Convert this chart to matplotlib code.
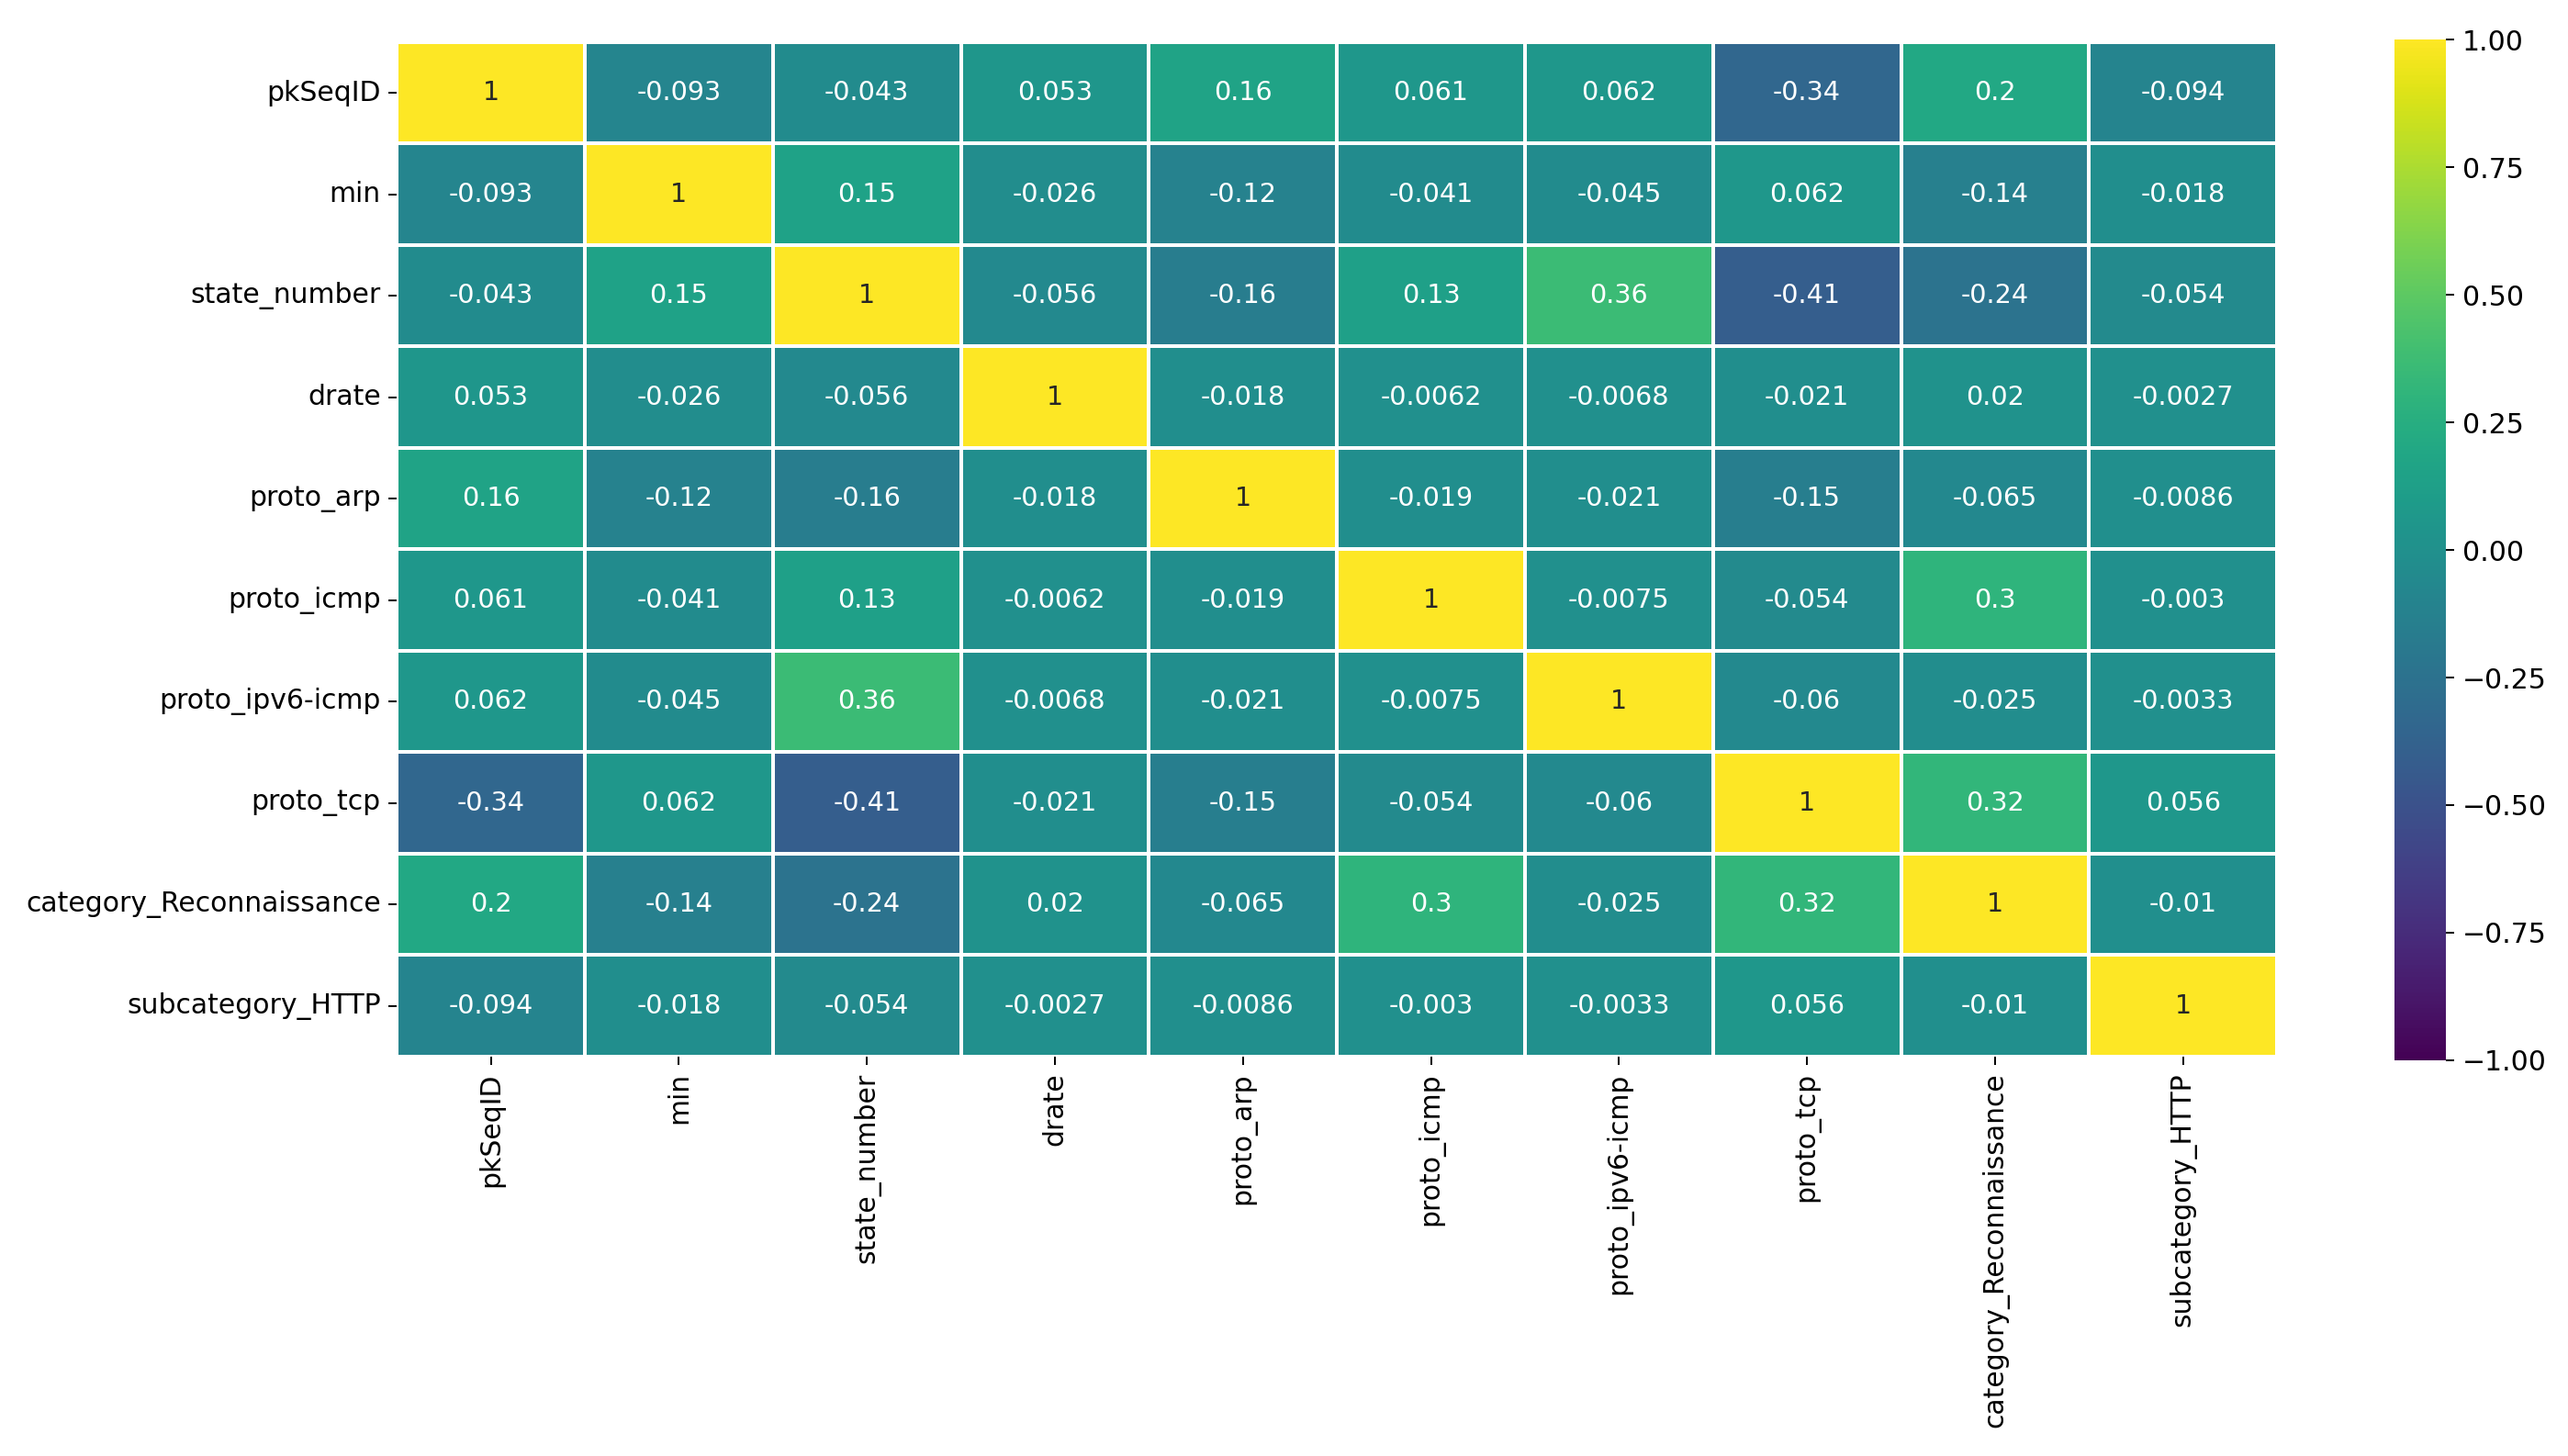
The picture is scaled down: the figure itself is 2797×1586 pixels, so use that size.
import numpy as np
import pandas as pd
import seaborn as sns
from matplotlib import pyplot as plt

labels = ['pkSeqID', 'min', 'state_number', 'drate', 'proto_arp', 'proto_icmp',
          'proto_ipv6-icmp', 'proto_tcp', 'category_Reconnaissance', 'subcategory_HTTP']

# correlation matrix (row by row)
row_pkseqid = [1, -0.093, -0.043, 0.053, 0.16, 0.061, 0.062, -0.34, 0.2, -0.094]
row_min = [-0.093, 1, 0.15, -0.026, -0.12, -0.041, -0.045, 0.062, -0.14, -0.018]
row_state = [-0.043, 0.15, 1, -0.056, -0.16, 0.13, 0.36, -0.41, -0.24, -0.054]
row_drate = [0.053, -0.026, -0.056, 1, -0.018, -0.0062, -0.0068, -0.021, 0.02, -0.0027]
row_arp = [0.16, -0.12, -0.16, -0.018, 1, -0.019, -0.021, -0.15, -0.065, -0.0086]
row_icmp = [0.061, -0.041, 0.13, -0.0062, -0.019, 1, -0.0075, -0.054, 0.3, -0.003]
row_ipv6 = [0.062, -0.045, 0.36, -0.0068, -0.021, -0.0075, 1, -0.06, -0.025, -0.0033]
row_tcp = [-0.34, 0.062, -0.41, -0.021, -0.15, -0.054, -0.06, 1, 0.32, 0.056]
row_recon = [0.2, -0.14, -0.24, 0.02, -0.065, 0.3, -0.025, 0.32, 1, -0.01]
row_http = [-0.094, -0.018, -0.054, -0.0027, -0.0086, -0.003, -0.0033, 0.056, -0.01, 1]

corr = pd.DataFrame([row_pkseqid, row_min, row_state, row_drate, row_arp,
                     row_icmp, row_ipv6, row_tcp, row_recon, row_http],
                    index=labels, columns=labels)

fig = plt.figure(figsize=(2797/179, 1586/179), dpi=179)
ax = fig.add_axes([0.1545, 0.2743, 0.7322, 0.6967])
cax = fig.add_axes([0.9325, 0.2718, 0.020, 0.701])

sns.heatmap(corr, annot=True, annot_kws={'fontsize': 11.5}, cmap='viridis',
            vmin=-1, vmax=1, linewidths=1, linecolor='white', ax=ax, cbar_ax=cax)

ax.set_xticklabels(labels, rotation=90, fontsize=12)
ax.set_yticklabels(labels, rotation=0, fontsize=12)
cax.tick_params(labelsize=12)

plt.savefig('out.png', dpi=179)
